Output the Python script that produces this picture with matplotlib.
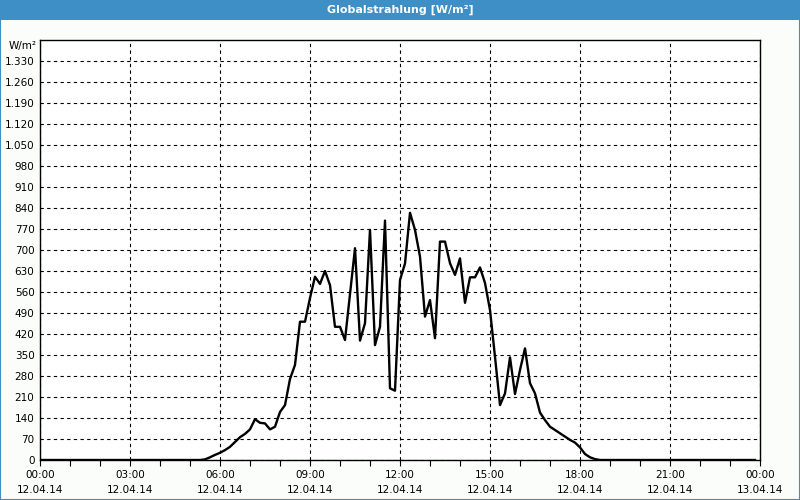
import matplotlib
matplotlib.use("Agg")
import matplotlib.pyplot as plt
from matplotlib.patches import Rectangle
from matplotlib.ticker import MultipleLocator, FixedLocator

# 10-minute values, 00:00 .. 23:50
hours_of_day = [i / 6 for i in range(144)]
radiation = (
    [0] * 32 +
    [0, 2, 9, 17,                      # 05:20 - 05:50
     24, 33, 44, 60, 76, 87,           # 06:00
     102, 136, 124, 122, 102, 111,     # 07:00
     160, 183, 270, 317, 461, 461,     # 08:00
     540, 611, 587, 630, 583, 444,     # 09:00
     444, 400, 553, 706, 398, 456,     # 10:00
     767, 383, 444, 798, 239, 231,     # 11:00
     600, 655, 824, 767, 678, 478,     # 12:00
     533, 406, 728, 728, 656, 617,     # 13:00
     672, 524, 609, 609, 642, 590,     # 14:00
     500, 344, 183, 222, 342, 220,     # 15:00
     300, 372, 256, 222, 158, 133,     # 16:00
     111, 100, 89, 78, 67, 58,         # 17:00
     42, 20, 9, 3]                     # 18:00 - 18:30
)
radiation += [0] * (144 - len(radiation))

y_ticks = list(range(0, 1331, 70))
x_ticks = [0, 3, 6, 9, 12, 15, 18, 21, 24]
x_labels = ["00:00\n12.04.14", "03:00\n12.04.14", "06:00\n12.04.14",
            "09:00\n12.04.14", "12:00\n12.04.14", "15:00\n12.04.14",
            "18:00\n12.04.14", "21:00\n12.04.14", "00:00\n13.04.14"]
title = "Globalstrahlung [W/m²]"
unit = "W/m²"

def fmt(v):
    return f"{v:,}".replace(",", ".")

bg = "#fbfdfb"
blue = "#3d8fc6"
fig = plt.figure(figsize=(8, 5), dpi=100, facecolor=bg)

# title bar and frame
fig.patches.append(Rectangle((0, 0.96), 1, 0.04, transform=fig.transFigure,
                             facecolor=blue, edgecolor="none", zorder=0))
fig.patches.append(Rectangle((0.0006, 0.001), 0.9988, 0.998, transform=fig.transFigure,
                             facecolor="none", edgecolor=blue, lw=1.5, zorder=0))
fig.text(0.5, 0.98, title, ha="center", va="center", color="white",
         fontsize=8, fontweight="bold")

ax = fig.add_axes([0.05, 0.08, 0.90, 0.84])
ax.set_facecolor("white")
ax.plot(hours_of_day, radiation, color="black", lw=1.7, zorder=3)

ax.set_xlim(0, 24)
ax.set_ylim(0, 1400)
ax.xaxis.set_major_locator(FixedLocator(x_ticks))
ax.xaxis.set_minor_locator(MultipleLocator(1))
ax.set_xticklabels(x_labels, fontsize=7.5, linespacing=1.7)
ax.yaxis.set_major_locator(FixedLocator(y_ticks))
ax.set_yticklabels([fmt(v) for v in y_ticks], fontsize=7.5)
ax.tick_params(axis="x", which="major", length=4, width=0.8, pad=3)
ax.tick_params(axis="x", which="minor", length=4, width=0.8)
ax.tick_params(axis="y", length=0, pad=4)
ax.grid(True, which="major", color="black", linestyle=(0, (3, 3)), lw=0.8)
for s in ax.spines.values():
    s.set_color("black")
    s.set_linewidth(1.0)

fig.text(0.046, 0.908, unit, ha="right", va="center", fontsize=7.5)

fig.savefig("out.png", dpi=100, facecolor=bg)
